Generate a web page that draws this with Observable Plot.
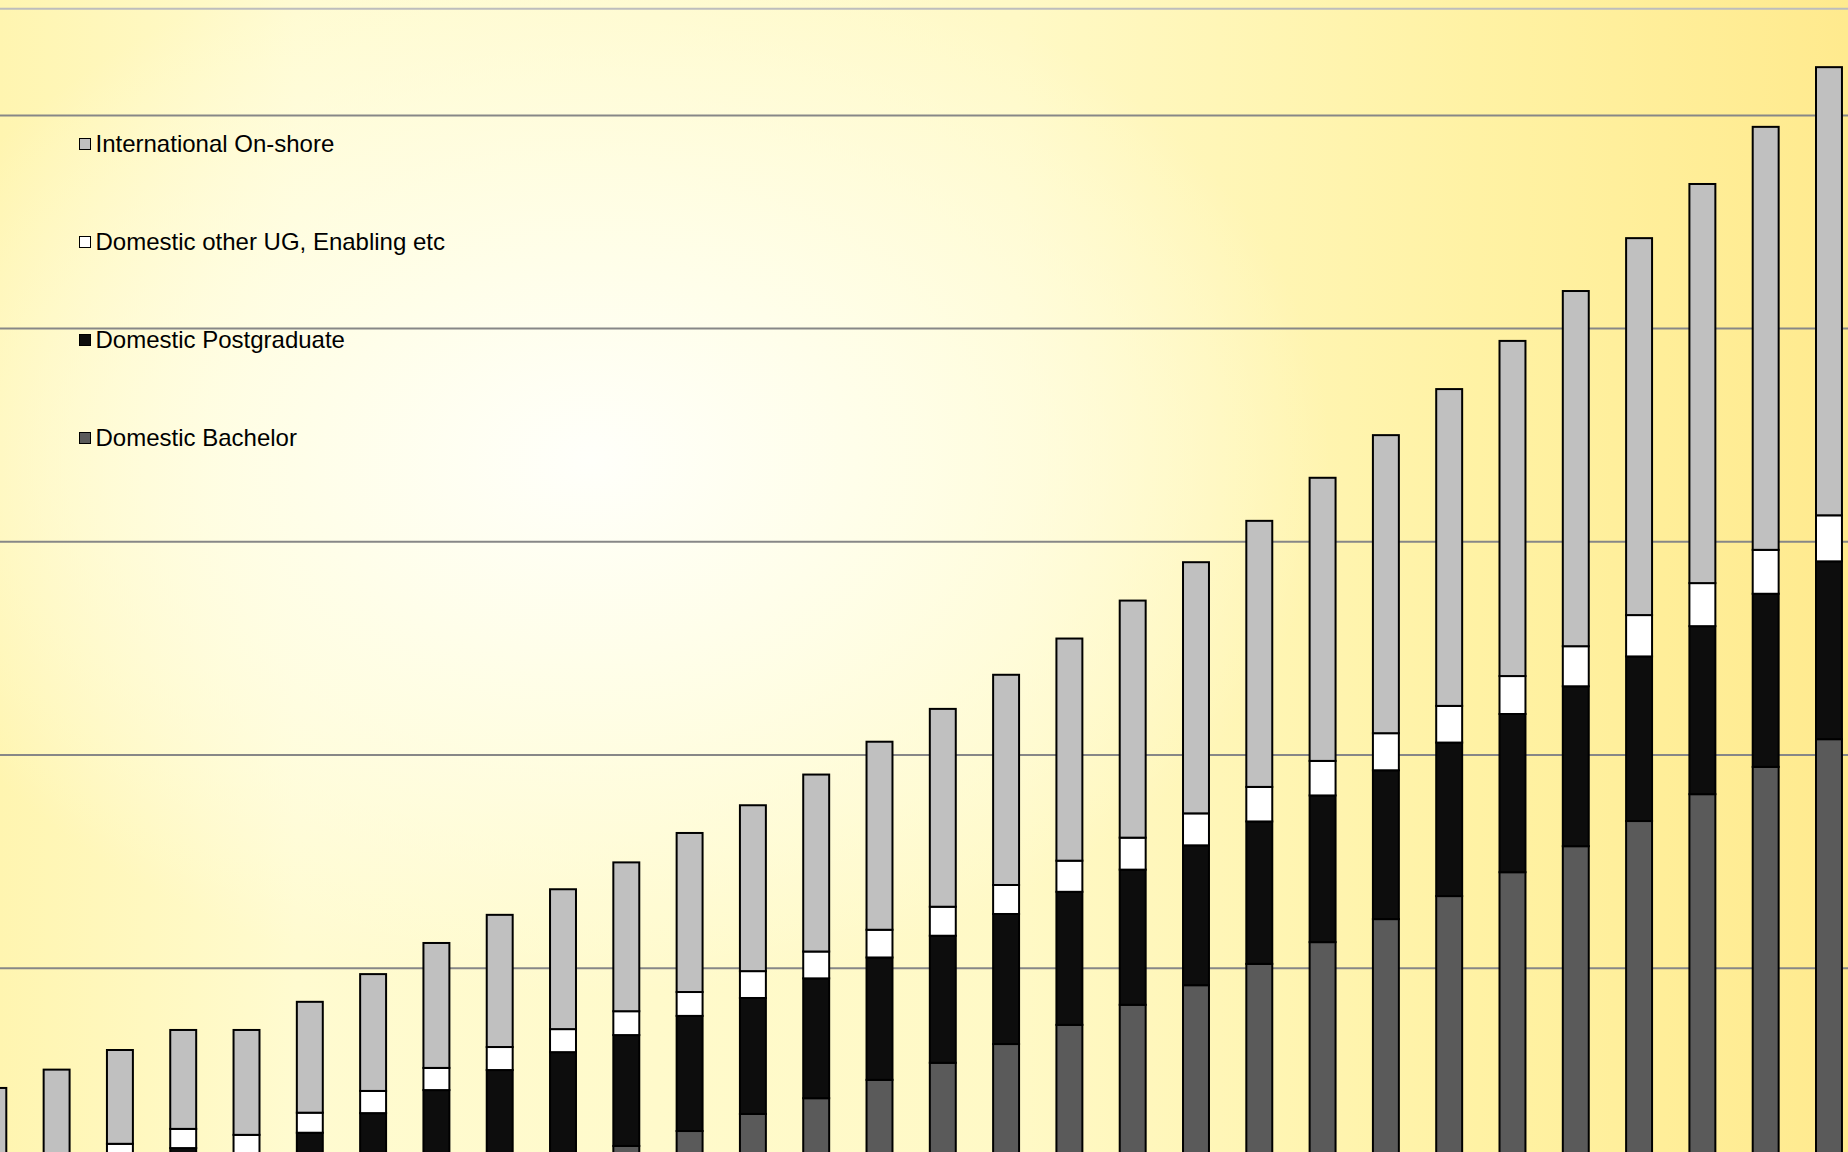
<!DOCTYPE html>
<html>
<head>
<meta charset="utf-8">
<script src="https://cdn.jsdelivr.net/npm/d3@7"></script>
<script src="https://cdn.jsdelivr.net/npm/@observablehq/plot@0.6"></script>
<style>
  html, body { margin: 0; padding: 0; overflow: hidden; }
  body { width: 1848px; height: 1152px; }
  #wrap {
    position: relative; width: 1848px; height: 1152px; overflow: hidden;
    background:
      radial-gradient(ellipse 50% 58% at 32% 40%, rgba(255,255,250,1) 0%, rgba(255,254,232,0.95) 35%, rgba(255,250,200,0) 80%),
      linear-gradient(90deg, #fff5b0 0%, #fffbd0 16%, #fff9c6 55%, #fff2a4 80%, #ffea8e 100%);
  }
  #chart svg { display: block; background: transparent !important; }
  #legend { position: absolute; left: 79px; top: 0; font-family: "Liberation Sans", Arial, sans-serif; font-size: 24px; color: #000; }
  .item { position: absolute; left: 0; white-space: nowrap; display: flex; align-items: center; }
  .sw { width: 10px; height: 10px; border: 1.5px solid #000; margin-right: 4.5px; }
</style>
</head>
<body>
<div id="wrap">
  <div id="chart"></div>
  <div id="legend"></div>
</div>
<script>
// Periods (no labels are shown in the chart)
const periods = d3.range(1, 31).map(i => "P" + i);

// Series names, bottom to top of the stack
const seriesNames = ["Domestic Bachelor", "Domestic Postgraduate", "Domestic other UG, Enabling etc", "International On-shore"];
const seriesColors = ["#5a5a5a", "#0d0d0d", "#ffffff", "#c0c0c0"];

// Values (estimated, arbitrary units; one grid step = 5000)
const domesticBachelor = [90, 120, 140, 210, 210, 260, 300, 350, 440, 580, 820, 1170, 1570, 1940, 2370, 2770, 3210, 3660, 4130, 4590, 5090, 5600, 6140, 6680, 7240, 7850, 8440, 9070, 9710, 10360];
const domesticPostgraduate = [90, 140, 310, 560, 330, 870, 1290, 1780, 2160, 2440, 2600, 2700, 2720, 2810, 2870, 2980, 3050, 3120, 3170, 3280, 3340, 3440, 3490, 3600, 3710, 3750, 3860, 3940, 4060, 4170];
const domesticOther = [190, 190, 420, 450, 540, 470, 520, 520, 540, 540, 560, 560, 630, 630, 650, 680, 680, 730, 750, 750, 810, 810, 870, 860, 890, 940, 970, 1010, 1030, 1080];
const international = [1810, 2160, 2200, 2320, 2460, 2600, 2740, 2930, 3100, 3280, 3490, 3730, 3890, 4150, 4410, 4640, 4930, 5210, 5560, 5890, 6240, 6640, 6990, 7430, 7860, 8330, 8840, 9360, 9920, 10510];

// Grid values and plot-area top line
const gridValues = [5000, 10000, 15000, 20000, 25000];
const topLine = [27500];

const seriesValues = [domesticBachelor, domesticPostgraduate, domesticOther, international];
const table = [];
periods.forEach((p, i) => {
  seriesNames.forEach((s, j) => table.push({period: p, series: s, value: seriesValues[j][i]}));
});

const chart = Plot.plot({
  width: 1848,
  height: 1152,
  marginTop: 0, marginBottom: 0, marginLeft: 0, marginRight: 0,
  style: {background: "transparent"},
  x: {type: "band", domain: periods, range: [-57, 1879.3], padding: 0.59, round: false, axis: null},
  y: {domain: [678, 27695], axis: null},
  color: {domain: seriesNames, range: seriesColors},
  marks: [
    Plot.ruleY(topLine, {stroke: "#bdbdbd", strokeWidth: 2}),
    Plot.ruleY(gridValues, {stroke: "#878787", strokeWidth: 2}),
    Plot.barY(table, {x: "period", y: "value", fill: "series", stroke: "#000", strokeWidth: 2, order: seriesNames, clip: true})
  ]
});
document.getElementById("chart").appendChild(chart);

// Legend (top to bottom: reverse of stack order)
const legend = document.getElementById("legend");
const legendTops = [143.5, 241.5, 339.5, 437.5];
[3, 2, 1, 0].forEach((j, k) => {
  const item = document.createElement("div");
  item.className = "item";
  item.style.top = (legendTops[k] - 14) + "px";
  item.style.height = "28px";
  const sw = document.createElement("span");
  sw.className = "sw";
  sw.style.background = seriesColors[j];
  const tx = document.createElement("span");
  tx.textContent = seriesNames[j];
  item.appendChild(sw);
  item.appendChild(tx);
  legend.appendChild(item);
});
</script>
</body>
</html>
